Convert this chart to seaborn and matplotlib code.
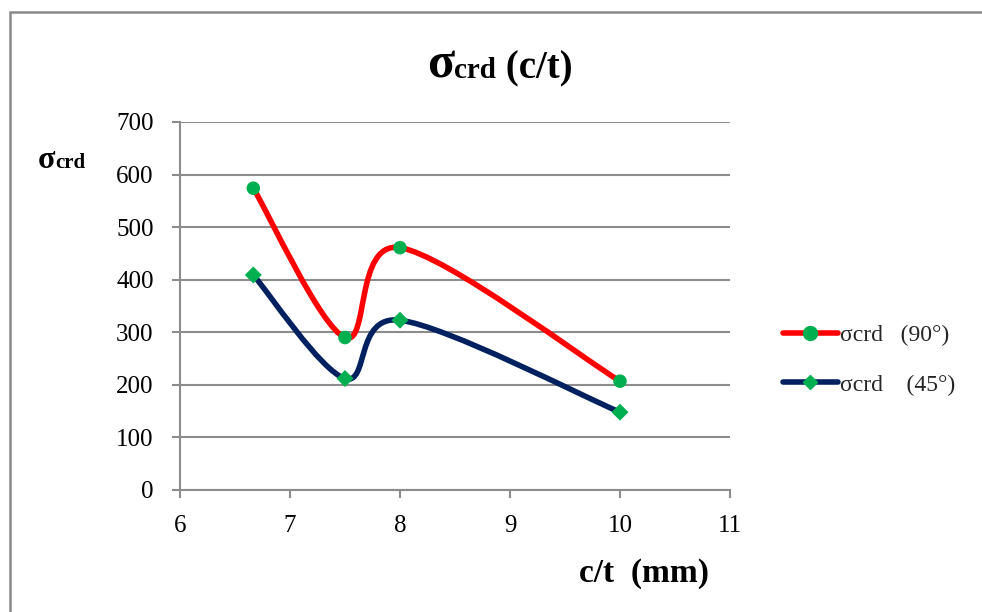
import numpy as np
import pandas as pd
import seaborn as sns
import matplotlib
matplotlib.use("Agg")
import matplotlib.pyplot as plt
from matplotlib.path import Path
from matplotlib.patches import PathPatch, Rectangle
from matplotlib.lines import Line2D
from matplotlib.offsetbox import TextArea, HPacker, AnchoredOffsetbox

# c/t ratios and critical stresses for the two orientations
ct = [20 / 3, 7.5, 8.0, 10.0]
sigma_90 = [574, 290, 461, 207]
sigma_45 = [409, 212, 323, 148]
series_labels = ["σcrd   (90°)", "σcrd    (45°)"]
x_ticks = [6, 7, 8, 9, 10, 11]
y_ticks = [0, 100, 200, 300, 400, 500, 600, 700]

sns.set_theme(style="white")
SERIF = "Liberation Serif"
plt.rcParams["font.family"] = [SERIF, "DejaVu Serif"]

fig = plt.figure(figsize=(9.82, 6.12), dpi=100)
ax = fig.add_axes([180 / 982, 1 - 490 / 612, 550 / 982, 368 / 612])

GRID = "#8c8c8c"
GREEN = "#00b050"
RED = "#ff0000"
NAVY = "#002060"


def smooth_path(xs, ys):
    """Cubic Bezier through the points (Catmull-Rom style tangents)."""
    pts = np.column_stack([xs, ys]).astype(float)
    n = len(pts)
    verts = [pts[0]]
    codes = [Path.MOVETO]
    for i in range(n - 1):
        p0 = pts[i - 1] if i > 0 else pts[i]
        p1, p2 = pts[i], pts[i + 1]
        p3 = pts[i + 2] if i + 2 < n else pts[i + 1]
        c1 = p1 + (p2 - p0) / 6.0
        c2 = p2 - (p3 - p1) / 6.0
        verts += [c1, c2, p2]
        codes += [Path.CURVE4] * 3
    return Path(verts, codes)


df90 = pd.DataFrame({"ct": ct, "sigma": sigma_90})
df45 = pd.DataFrame({"ct": ct, "sigma": sigma_45})

for ys, col in [(sigma_90, RED), (sigma_45, NAVY)]:
    ax.add_patch(PathPatch(smooth_path(ct, ys), facecolor="none",
                           edgecolor=col, lw=4.0, capstyle="round",
                           joinstyle="round", zorder=3))

sns.scatterplot(data=df90, x="ct", y="sigma", marker="o", color=GREEN,
                s=95, edgecolor="none", ax=ax, legend=False, zorder=4)
sns.scatterplot(data=df45, x="ct", y="sigma", marker="D", color=GREEN,
                s=75, edgecolor="none", ax=ax, legend=False, zorder=4)

ax.set_xlim(6, 11)
ax.set_ylim(0, 700)
ax.set_xticks(x_ticks)
ax.set_yticks(y_ticks)
ax.set_xlabel("")
ax.set_ylabel("")
ax.yaxis.grid(True, color=GRID, lw=1.5)
ax.xaxis.grid(False)
for side in ["top", "right"]:
    ax.spines[side].set_visible(False)
for side in ["left", "bottom"]:
    ax.spines[side].set_color(GRID)
    ax.spines[side].set_linewidth(1.5)
ax.tick_params(axis="both", which="major", direction="out", length=6,
               width=1.5, color=GRID, labelsize=18, labelcolor="black",
               left=True, bottom=True)
ax.tick_params(axis="x", pad=12)
ax.tick_params(axis="y", pad=13)
for lab in ax.get_xticklabels() + ax.get_yticklabels():
    lab.set_family(SERIF)


def rich_label(parts, loc_xy, fig):
    boxes = [TextArea(t, textprops=dict(fontsize=s, fontweight=w,
                                        family=[SERIF, "DejaVu Serif"],
                                        color="black"))
             for t, s, w in parts]
    pack = HPacker(children=boxes, align="baseline", pad=0, sep=0)
    anc = AnchoredOffsetbox(loc="center", child=pack, frameon=False,
                            bbox_to_anchor=loc_xy,
                            bbox_transform=fig.transFigure, borderpad=0)
    fig.add_artist(anc)


# Title
rich_label([("σ", 36, "bold"), ("crd", 21, "bold"), (" (c/t)", 28, "bold")],
           (500 / 982, 1 - 66 / 612), fig)
# y-axis label
rich_label([("σ", 23, "bold"), ("crd", 15, "bold")],
           (62 / 982, 1 - 160 / 612), fig)
# x-axis label
rich_label([("c/t  (mm)", 24, "bold")],
           (644 / 982, 1 - 573 / 612), fig)

# Legend
handles = [Line2D([], [], color=RED, lw=4.0, marker="o", ms=10,
                  mfc=GREEN, mec=GREEN),
           Line2D([], [], color=NAVY, lw=4.0, marker="D", ms=7.5,
                  mfc=GREEN, mec=GREEN)]
leg = fig.legend(handles, series_labels, loc="center left",
                 bbox_to_anchor=(762 / 982, 1 - 360 / 612), frameon=False,
                 prop={"family": SERIF, "size": 17}, handlelength=2.3,
                 handletextpad=0.1, labelspacing=1.2)

# Outer chart frame
fig.add_artist(Rectangle((10 / 982, -0.1), 1.1, 1 - 12 / 612 + 0.1,
                         transform=fig.transFigure, facecolor="none",
                         edgecolor="#8a8a8a", lw=1.8))

fig.savefig("out.png", dpi=100)
